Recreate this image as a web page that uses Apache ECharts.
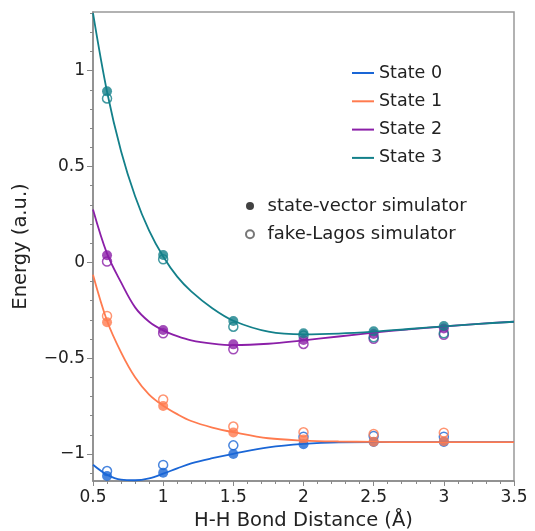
<!DOCTYPE html>
<html>
<head>
<meta charset="utf-8">
<script src="https://cdn.jsdelivr.net/npm/echarts@6/dist/echarts.min.js"></script>
<style>
  html, body { margin: 0; padding: 0; background: #fff; }
  #chart { width: 535px; height: 531px; }
</style>
</head>
<body>
<div id="chart"></div>
<script>
// exact-diagonalisation curves, sampled along the bond distance
const curveX = [0.5, 0.6, 0.7, 0.8, 0.9, 1.0, 1.1, 1.2, 1.35, 1.5, 1.75, 2.0, 2.25, 2.5, 2.75, 3.0, 3.25, 3.5];
const state0Curve = [-1.056, -1.108, -1.134, -1.137, -1.127, -1.103, -1.075, -1.049, -1.022, -0.999, -0.965, -0.947, -0.939, -0.938, -0.938, -0.938, -0.938, -0.938];
const state1Curve = [-0.065, -0.305, -0.47, -0.6, -0.69, -0.748, -0.792, -0.828, -0.862, -0.886, -0.918, -0.93, -0.935, -0.937, -0.938, -0.938, -0.938, -0.938];
const state2Curve = [0.275, 0.045, -0.105, -0.235, -0.31, -0.355, -0.385, -0.407, -0.424, -0.432, -0.425, -0.407, -0.387, -0.367, -0.35, -0.335, -0.321, -0.31];
const state3Curve = [1.3, 0.89, 0.58, 0.345, 0.165, 0.03, -0.075, -0.152, -0.24, -0.305, -0.362, -0.376, -0.372, -0.362, -0.348, -0.334, -0.321, -0.31];

// simulator results
const simX = [0.6, 1.0, 1.5, 2.0, 2.5, 3.0];
const state0SV = [-1.115, -1.098, -1.0, -0.949, -0.937, -0.937];
const state1SV = [-0.313, -0.75, -0.888, -0.924, -0.936, -0.933];
const state2SV = [0.037, -0.353, -0.428, -0.405, -0.374, -0.345];
const state3SV = [0.892, 0.038, -0.306, -0.37, -0.36, -0.332];
const state0Lagos = [-1.089, -1.057, -0.955, -0.91, -0.906, -0.91];
const state1Lagos = [-0.28, -0.716, -0.857, -0.887, -0.896, -0.889];
const state2Lagos = [0.004, -0.37, -0.454, -0.426, -0.399, -0.378];
const state3Lagos = [0.855, 0.016, -0.336, -0.382, -0.391, -0.37];

const stateNames = ["State 0", "State 1", "State 2", "State 3"];
const simNames = ["state-vector simulator", "fake-Lagos simulator"];
const yMajorTicks = [-1, -0.5, 0, 0.5, 1];
const yMinorTicks = [-1.1, -0.9, -0.8, -0.7, -0.6, -0.4, -0.3, -0.2, -0.1, 0.1, 0.2, 0.3, 0.4, 0.6, 0.7, 0.8, 0.9, 1.1, 1.2, 1.3];

const colors = ["#1a66d6", "#ff7b4f", "#8b1fa8", "#13808a"];
const curves = [state0Curve, state1Curve, state2Curve, state3Curve];
const svData = [state0SV, state1SV, state2SV, state3SV];
const lagosData = [state0Lagos, state1Lagos, state2Lagos, state3Lagos];

const font = "DejaVu Sans";
const textColor = "#222";

function pairs(xs, ys) {
  return xs.map((x, i) => [x, ys[i]]);
}

const series = [];
curves.forEach((c, i) => {
  series.push({
    name: stateNames[i],
    type: "line",
    data: pairs(curveX, c),
    smooth: 0.35,
    symbol: "none",
    lineStyle: { color: colors[i], width: 1.8 },
    itemStyle: { color: colors[i] },
    clip: true,
  });
});
lagosData.forEach((d, i) => {
  series.push({
    type: "scatter",
    data: pairs(simX, d),
    symbolSize: 9,
    itemStyle: { color: "rgba(255,255,255,0)", borderColor: colors[i], borderWidth: 1.5 },
  });
});
svData.forEach((d, i) => {
  series.push({
    type: "scatter",
    data: pairs(simX, d),
    symbolSize: 10,
    itemStyle: { color: colors[i] },
  });
});
// legend entries for the two simulators
series.push({
  name: simNames[0],
  type: "scatter",
  data: [],
  itemStyle: { color: "#111" },
});
series.push({
  name: simNames[1],
  type: "scatter",
  data: [],
  itemStyle: { color: "#fff", borderColor: "#555", borderWidth: 1.2 },
});

const chart = echarts.init(document.getElementById("chart"));
const option = {
  animation: false,
  backgroundColor: "#fff",
  textStyle: { fontFamily: font },
  grid: {
    left: 93,
    right: 21,
    top: 12,
    bottom: 50,
    containLabel: false,
    outerBoundsMode: "none",
    show: true,
    borderColor: "#999",
    borderWidth: 1.5,
  },
  legend: [
    {
      data: stateNames,
      icon: "rect",
      orient: "vertical",
      left: 347,
      top: 59,
      itemGap: 10.3,
      itemWidth: 22,
      itemHeight: 2,
      textStyle: { fontFamily: font, fontSize: 17.5, lineHeight: 18, color: textColor },
    },
    {
      data: simNames,
      orient: "vertical",
      left: 240,
      top: 192,
      itemGap: 10.3,
      itemWidth: 25,
      itemHeight: 8,
      textStyle: { fontFamily: font, fontSize: 18, lineHeight: 18, color: textColor },
    },
  ],
  xAxis: {
    type: "value",
    min: 0.5,
    max: 3.5,
    interval: 0.5,
    name: "H-H Bond Distance (Å)",
    nameLocation: "middle",
    nameGap: 30,
    nameTextStyle: { fontFamily: font, fontSize: 19.5, color: textColor },
    axisLine: { show: true, onZero: false, lineStyle: { color: "#888", width: 1.5 } },
    axisTick: { show: true, inside: false, length: 5, lineStyle: { color: "#888" } },
    minorTick: { show: true, splitNumber: 5, length: 3, lineStyle: { color: "#888" } },
    axisLabel: { fontFamily: font, fontSize: 17, color: textColor, margin: 8 },
    splitLine: { show: false },
  },
  yAxis: [
    {
      type: "value",
      min: -1.141,
      max: 1.306,
      name: "Energy (a.u.)",
      nameLocation: "middle",
      nameGap: 62,
      nameTextStyle: { fontFamily: font, fontSize: 19.5, color: textColor },
      axisLine: { show: true, onZero: false, lineStyle: { color: "#888", width: 1.5 } },
      axisTick: { show: true, inside: false, length: 6, customValues: yMajorTicks, lineStyle: { color: "#888" } },
      axisLabel: {
        customValues: yMajorTicks,
        fontFamily: font,
        fontSize: 17,
        color: textColor,
        margin: 8,
        formatter: (v) => String(v).replace("-", "\u2212"),
      },
      splitLine: { show: false },
    },
    {
      type: "value",
      min: -1.141,
      max: 1.306,
      position: "left",
      axisLine: { show: false },
      axisTick: { show: true, inside: false, length: 3, customValues: yMinorTicks, lineStyle: { color: "#888" } },
      axisLabel: { show: false },
      splitLine: { show: false },
    },
  ],
  series: series,
};
option && chart.setOption(option);
</script>
</body>
</html>
